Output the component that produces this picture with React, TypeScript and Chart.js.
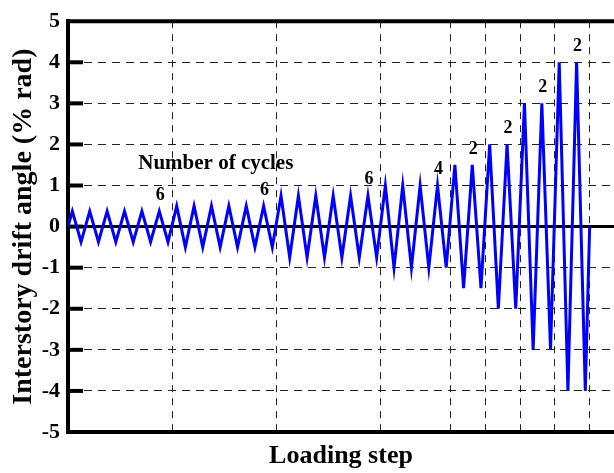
import React, { useEffect, useRef } from 'react';
import { Chart, registerables } from 'chart.js';

Chart.register(...registerables);

// Loading protocol: drift amplitude (% rad) of each group and number of cycles in it
const amplitudes = [0.375, 0.5, 0.75, 1, 1.5, 2, 3, 4];
const cycleCounts = [6, 6, 6, 4, 2, 2, 2, 2];
const yTickValues = [-5, -4, -3, -2, -1, 0, 1, 2, 3, 4, 5];

const xTitle = 'Loading step';
const yTitle = 'Interstory drift angle (% rad)';
const noteText = 'Number of cycles';

const SERIF = '"Liberation Serif", "Times New Roman", serif';
const X_MAX = 31.4;
const NOTE_POS = { x: 8.5, y: 1.53 };

function buildProtocol() {
  const pts: { x: number; y: number }[] = [{ x: 0, y: 0 }];
  let c = 0;
  amplitudes.forEach((a, g) => {
    for (let k = 0; k < cycleCounts[g]; k++) {
      pts.push({ x: c + 0.25, y: a });
      pts.push({ x: c + 0.75, y: -a });
      c++;
    }
  });
  pts.push({ x: c, y: 0 });
  return pts;
}

function groupEnds() {
  const ends: number[] = [];
  let c = 0;
  cycleCounts.forEach((n) => {
    c += n;
    ends.push(c);
  });
  return ends;
}

const framePlugin = {
  id: 'frame',
  beforeDatasetsDraw(chart: any) {
    const { ctx, chartArea, scales } = chart;
    const y = scales.y;
    ctx.save();
    ctx.strokeStyle = '#000';
    // zero line
    const y0 = y.getPixelForValue(0);
    ctx.lineWidth = 3;
    ctx.beginPath();
    ctx.moveTo(chartArea.left, y0);
    ctx.lineTo(chartArea.right, y0);
    ctx.stroke();
    // inward ticks on the left axis
    ctx.lineWidth = 4;
    yTickValues.forEach((v) => {
      if (Math.abs(v) >= 5) return;
      const py = y.getPixelForValue(v);
      ctx.beginPath();
      ctx.moveTo(chartArea.left, py);
      ctx.lineTo(chartArea.left + 15, py);
      ctx.stroke();
    });
    ctx.restore();
  },
  afterDraw(chart: any) {
    const { ctx, chartArea, scales } = chart;
    const xs = scales.x;
    const ys = scales.y;
    ctx.save();
    // top frame line
    ctx.strokeStyle = '#000';
    ctx.lineWidth = 4;
    ctx.beginPath();
    ctx.moveTo(chartArea.left - 2, chartArea.top);
    ctx.lineTo(chartArea.right, chartArea.top);
    ctx.stroke();
    // cycle count labels above last peak of each group
    ctx.fillStyle = '#000';
    ctx.textAlign = 'center';
    ctx.textBaseline = 'middle';
    ctx.font = `bold 18px ${SERIF}`;
    const ends = groupEnds();
    ends.forEach((e, g) => {
      const px = xs.getPixelForValue(e - 0.75);
      const py = ys.getPixelForValue(amplitudes[g]) - 16;
      ctx.fillText(String(cycleCounts[g]), px + 1, py);
    });
    ctx.font = `bold 21px ${SERIF}`;
    ctx.fillText(noteText, xs.getPixelForValue(NOTE_POS.x), ys.getPixelForValue(NOTE_POS.y));
    ctx.restore();
  },
};

export default function App() {
  const canvasRef = useRef<HTMLCanvasElement | null>(null);

  useEffect(() => {
    if (!canvasRef.current) return;
    const ends = groupEnds();
    const chart = new Chart(canvasRef.current, {
      type: 'line',
      data: {
        datasets: [
          {
            data: buildProtocol(),
            borderColor: '#0000ff',
            borderWidth: 3,
            pointRadius: 0,
            tension: 0,
            fill: false,
          },
        ],
      },
      options: {
        responsive: false,
        animation: false,
        layout: { padding: { top: 15, left: 0, right: 0, bottom: 0 } },
        plugins: { legend: { display: false }, tooltip: { enabled: false } },
        scales: {
          x: {
            type: 'linear',
            min: 0,
            max: X_MAX,
            afterBuildTicks: (s: any) => {
              s.ticks = ends.map((v) => ({ value: v }));
            },
            afterFit: (s: any) => {
              s.height = 41;
            },
            ticks: { display: false },
            grid: { drawTicks: false, color: '#222', lineWidth: 1 },
            border: { display: true, color: '#000', width: 4, dash: [7, 6] },
            title: {
              display: true,
              text: xTitle,
              color: '#000',
              font: { family: SERIF, size: 26, weight: 'bold' },
              padding: { top: 0, bottom: 1.5 },
            },
          },
          y: {
            min: -5,
            max: 5,
            afterBuildTicks: (s: any) => {
              s.ticks = yTickValues.map((v) => ({ value: v }));
            },
            afterFit: (s: any) => {
              s.width = 68;
            },
            ticks: {
              color: '#000',
              padding: 8,
              font: { family: SERIF, size: 22, weight: 'bold' },
            },
            grid: {
              drawTicks: false,
              lineWidth: 1,
              color: (c: any) =>
                c.tick && (c.tick.value === 0 || Math.abs(c.tick.value) === 5) ? 'rgba(0,0,0,0)' : '#222',
            },
            border: { display: true, color: '#000', width: 4, dash: [8, 6] },
            title: {
              display: true,
              text: yTitle,
              color: '#000',
              font: { family: SERIF, size: 28, weight: 'bold' },
              padding: { top: 7, bottom: 0 },
            },
          },
        },
      } as any,
      plugins: [framePlugin],
    });
    return () => chart.destroy();
  }, []);

  return (
    <div style={{ position: 'fixed', left: 0, top: 0, width: 614, height: 473, background: '#fff' }}>
      <canvas ref={canvasRef} width={614} height={473} style={{ display: 'block' }} />
    </div>
  );
}
